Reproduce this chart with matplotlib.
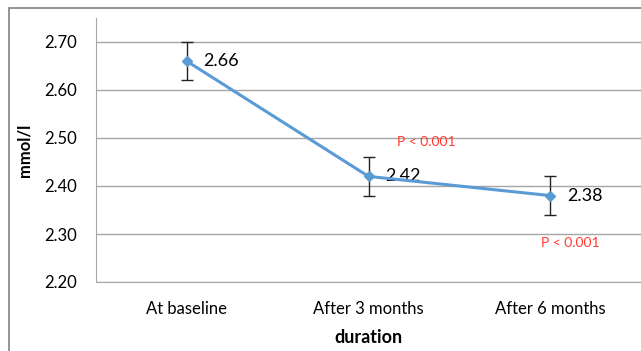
import matplotlib
matplotlib.use("Agg")
import matplotlib.pyplot as plt
from matplotlib.patches import Rectangle

categories = ["At baseline", "After 3 months", "After 6 months"]
values = [2.66, 2.42, 2.38]
errors = [0.04, 0.04, 0.04]
labels = ["2.66", "2.42", "2.38"]
pvals = ["P < 0.001", "P < 0.001"]
yticks = [2.20, 2.30, 2.40, 2.50, 2.60, 2.70]

plt.rcParams['font.family'] = ['Lato', 'DejaVu Sans']
W, H = 641, 351
fig = plt.figure(figsize=(W/100, H/100), dpi=100)
fig.patches.append(Rectangle((9/W, -0.1), 2, (H-8)/H + 0.1, transform=fig.transFigure,
                             fill=False, edgecolor='#808080', lw=1.2))
ax = fig.add_axes([96/W, 1-282/H, (641-96)/W, (282-18)/H])

x = list(range(len(categories)))
ax.errorbar(x, values, yerr=errors, color='#5B9BD5', lw=2.2, marker='D', ms=5,
            ecolor='#222222', elinewidth=1, capsize=4, capthick=1, zorder=3)
for xi, v, l in zip(x, values, labels):
    ax.annotate(l, (xi, v), xytext=(12, 0), textcoords='offset points',
                ha='left', va='center', fontsize=13, color='black')
ax.text(1.32, 2.492, pvals[0], color='#FF3B30', fontsize=10, ha='center', va='center')
ax.text(2.11, 2.281, pvals[1], color='#FF3B30', fontsize=10, ha='center', va='center')

ax.set_xlim(-0.5, 2.5)
ax.set_ylim(2.2, 2.75)
ax.set_yticks(yticks)
ax.set_yticklabels([f"{t:.2f}" for t in yticks], fontsize=12)
ax.set_xticks(x)
ax.set_xticklabels(categories, fontsize=12)
ax.grid(axis='y', color='#A6A6A6', lw=1)
ax.set_axisbelow(True)
for s in ['top', 'right']:
    ax.spines[s].set_visible(False)
ax.spines['left'].set_color('#A6A6A6')
ax.spines['bottom'].set_color('#A6A6A6')
ax.tick_params(length=0, pad=14, axis='y')
ax.tick_params(length=0, pad=14, axis='x')
ax.set_ylabel("mmol/l", fontsize=12, fontweight='bold', labelpad=8)
ax.set_xlabel("duration", fontsize=13, fontweight='bold', labelpad=8)
fig.savefig("out.png", dpi=100)
